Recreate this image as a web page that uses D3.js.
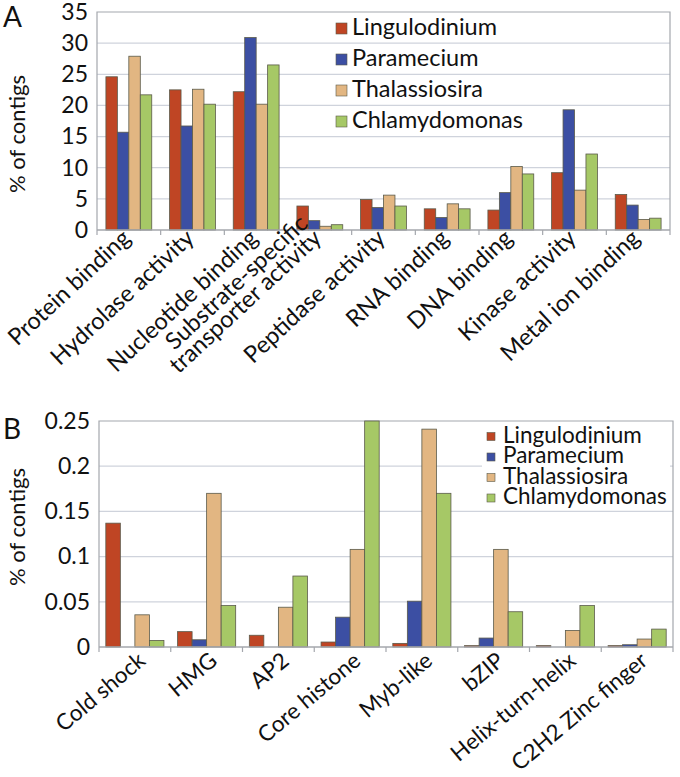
<!DOCTYPE html>
<html><head><meta charset="utf-8">
<script src="https://cdn.jsdelivr.net/npm/d3@7"></script>
<style>
body{margin:0;background:#fff;}
svg{display:block;font-family:"Lato","Open Sans",sans-serif;}
</style></head>
<body>
<svg id="chart" width="680" height="777"></svg>
<script>
const series = ["Lingulodinium","Paramecium","Thalassiosira","Chlamydomonas"];
const colors = ["#bf4524","#3c4fa3","#e2b682","#a6c866"];

const catsA = ["Protein binding","Hydrolase activity","Nucleotide binding","Substrate-specific\ntransporter activity","Peptidase activity","RNA binding","DNA binding","Kinase activity","Metal ion binding"];
const lingA = [24.6,22.5,22.2,3.85,4.9,3.4,3.2,9.2,5.7];
const paraA = [15.7,16.7,30.9,1.5,3.6,2.0,6.0,19.3,4.0];
const thalA = [27.9,22.6,20.2,0.6,5.6,4.2,10.2,6.4,1.7];
const chlaA = [21.7,20.2,26.5,0.85,3.85,3.4,9.0,12.2,1.9];
const ticksA = [0,5,10,15,20,25,30,35];

const catsB = ["Cold shock","HMG","AP2","Core histone","Myb-like","bZIP","Helix-turn-helix","C2H2 Zinc finger"];
const lingB = [0.137,0.017,0.013,0.0055,0.004,0.0015,0.0015,0.0015];
const paraB = [0,0.008,0,0.033,0.0507,0.0099,0,0.0025];
const thalB = [0.0356,0.17,0.044,0.108,0.241,0.108,0.0183,0.0088];
const chlaB = [0.0073,0.0458,0.0785,0.25,0.170,0.039,0.0458,0.0198];
const ticksB = [0,0.05,0.1,0.15,0.2,0.25];
const tickLabelsB = ["0","0.05","0.1","0.15","0.2","0.25"];

const svg = d3.select("#chart");

function panel(cfg){
  const {cats, vals, ticks, tickLabels, x0, x1, y0, y1, pad, letter, letterY, tickFont, labelFont, labelDx, labelDy, angle, titleY} = cfg;
  const g = svg.append("g");
  const x = d3.scaleBand().domain(cats).range([x0,x1]).paddingInner(pad).paddingOuter(pad/2);
  const xs = d3.scaleBand().domain(series).range([0,x.bandwidth()]);
  const y = d3.scaleLinear().domain([0,ticks[ticks.length-1]]).range([y1,y0]);
  g.append("g").selectAll("line").data(ticks.slice(1,-1)).join("line")
    .attr("x1",x0).attr("x2",x1).attr("y1",d=>y(d)).attr("y2",d=>y(d))
    .attr("stroke","#cfd3dc").attr("stroke-width",1.2);
  g.append("path").attr("d",`M${x0},${y1}V${y0}H${x1}V${y1}`).attr("fill","none").attr("stroke","#a4a7ad").attr("stroke-width",1.2);
  const yAxis = d3.axisLeft(y).tickValues(ticks).tickSize(0).tickPadding(9)
    .tickFormat((d,i)=> tickLabels ? tickLabels[i] : d);
  const ya = g.append("g").attr("transform",`translate(${x0},0)`).call(yAxis);
  ya.select(".domain").remove();
  ya.selectAll("text").attr("font-size",tickFont).attr("fill","#111").attr("font-family","Lato,sans-serif");
  const gs = g.append("g").selectAll("g").data(cats).join("g").attr("transform",d=>`translate(${x(d)},0)`);
  gs.selectAll("rect").data((d,i)=>series.map((s,j)=>({s, v: vals[j][i], j}))).join("rect")
    .attr("x",d=>xs(d.s)).attr("width",xs.bandwidth())
    .attr("y",d=>y(d.v)).attr("height",d=>y1-y(d.v))
    .attr("fill",d=>colors[d.j]).attr("stroke",d=>d.v>0?"#5a5a4a":"none").attr("stroke-width",0.8);
  g.append("line").attr("x1",x0).attr("x2",x1).attr("y1",y1).attr("y2",y1).attr("stroke","#a4a7ad").attr("stroke-width",1.5);
  const bounds = cats.map(c=>x(c)-x.step()*pad/2).concat([x1]);
  g.append("g").selectAll("line").data(bounds).join("line")
    .attr("x1",d=>d).attr("x2",d=>d).attr("y1",y1).attr("y2",y1+5).attr("stroke","#a4a7ad").attr("stroke-width",1.2);
  const lab = g.append("g").selectAll("text").data(cats).join("text")
    .attr("text-anchor","end").attr("font-size",labelFont).attr("fill","#111")
    .attr("transform",d=>`translate(${x(d)+x.bandwidth()/2+labelDx},${y1+labelDy}) rotate(${angle})`);
  lab.each(function(d){
    const lines = d.split("\n");
    const t = d3.select(this);
    lines.forEach((ln,k)=>{
      t.append("tspan").attr("x",0).attr("y",(k-(lines.length-1))*labelFont*0.85).text(ln);
    });
  });
  svg.append("text").attr("x",3).attr("y",letterY).attr("font-size",28).attr("fill","#111").text(letter);
  svg.append("text").attr("transform",`translate(25,${titleY}) rotate(-90)`).attr("text-anchor","middle")
    .attr("font-size",22).attr("fill","#111").text("% of contigs");
  return {x,y,g};
}

panel({cats:catsA, vals:[lingA,paraA,thalA,chlaA], ticks:ticksA, tickLabels:null,
  x0:97,x1:670,y0:12,y1:230,pad:0.28,letter:"A",letterY:27,tickFont:23,labelFont:23.5,labelDx:3,labelDy:10,angle:-43,titleY:134});
panel({cats:catsB, vals:[lingB,paraB,thalB,chlaB], ticks:ticksB, tickLabels:tickLabelsB,
  x0:99,x1:673,y0:421,y1:647,pad:0.19,letter:"B",letterY:439,tickFont:23,labelFont:22.5,labelDx:12,labelDy:16,angle:-40,titleY:527});

const legA = svg.append("g");
series.forEach((s,i)=>{
  const by = 35 + i*31;
  legA.append("rect").attr("x",336).attr("y",by-12).attr("width",11).attr("height",11)
    .attr("fill",colors[i]).attr("stroke","#5a5a4a").attr("stroke-width",0.6);
  legA.append("text").attr("x",352).attr("y",by).attr("font-size",23.5).attr("fill","#111").text(s);
});
const legB = svg.append("g");
legB.append("rect").attr("x",482).attr("y",426).attr("width",188).attr("height",84).attr("fill","#fff");
series.forEach((s,i)=>{
  const by = 442.5 + i*20.5;
  legB.append("rect").attr("x",487).attr("y",by-10).attr("width",8).attr("height",8)
    .attr("fill",colors[i]).attr("stroke","#5a5a4a").attr("stroke-width",0.6);
  legB.append("text").attr("x",503).attr("y",by).attr("font-size",22.5).attr("fill","#111").text(s);
});
</script>
</body></html>
